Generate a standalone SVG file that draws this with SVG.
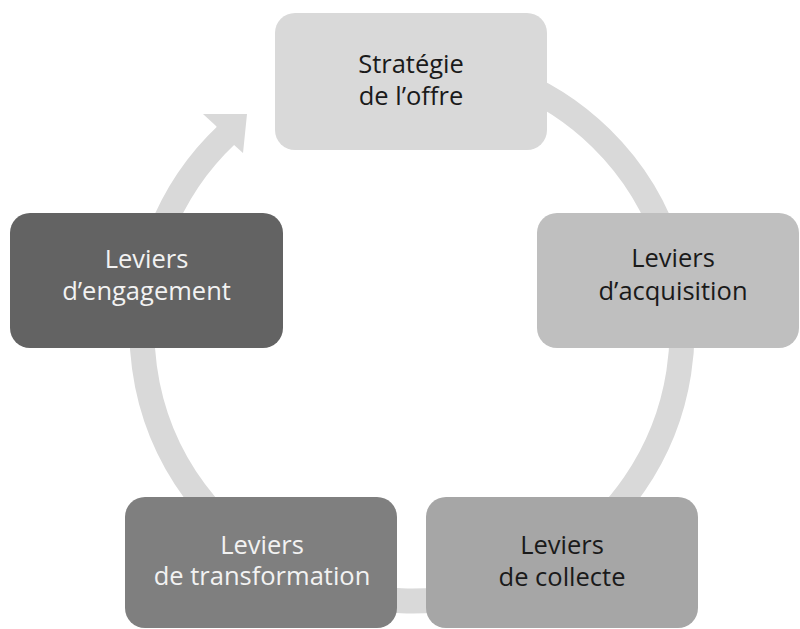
<svg xmlns="http://www.w3.org/2000/svg" width="800" height="629" viewBox="0 0 800 629">
<style>
.box{stroke:none}
.t{font-family:"Open Sans","Noto Sans",sans-serif;font-size:25.5px;text-anchor:middle}
.dk{fill:#1a1a1a}
.lt{fill:#f2f2f2}
.ring{fill:none;stroke:#d9d9d9;stroke-width:25}
</style>
<rect width="800" height="629" fill="#ffffff"/>
<g id="connectors">
<path class="ring" d="M365.11,65.10 A270,270 0 1 1 227.03,134.30"/>
<polygon fill="#d9d9d9" points="215,125 203,114 247,114 243,153 233,144"/>
</g>
<g id="node-strategie">
<rect class="box" x="275" y="13" width="272" height="137" rx="20" fill="#d9d9d9"/>
<text class="t dk" x="411" y="73">Stratégie</text>
<text class="t dk" x="411" y="105">de l’offre</text>
</g>
<g id="node-acquisition">
<rect class="box" x="537" y="213" width="262" height="135" rx="20" fill="#bfbfbf"/>
<text class="t dk" x="673" y="267">Leviers</text>
<text class="t dk" x="673" y="300">d’acquisition</text>
</g>
<g id="node-collecte">
<rect class="box" x="426" y="497" width="272" height="131" rx="20" fill="#a6a6a6"/>
<text class="t dk" x="562" y="554">Leviers</text>
<text class="t dk" x="562" y="586">de collecte</text>
</g>
<g id="node-transformation">
<rect class="box" x="125" y="497" width="272" height="131" rx="20" fill="#7f7f7f"/>
<text class="t lt" x="262" y="554">Leviers</text>
<text class="t lt" x="262" y="585">de transformation</text>
</g>
<g id="node-engagement">
<rect class="box" x="10" y="213" width="273" height="135" rx="20" fill="#636363"/>
<text class="t lt" x="146.5" y="268">Leviers</text>
<text class="t lt" x="146.5" y="300">d’engagement</text>
</g>
</svg>
